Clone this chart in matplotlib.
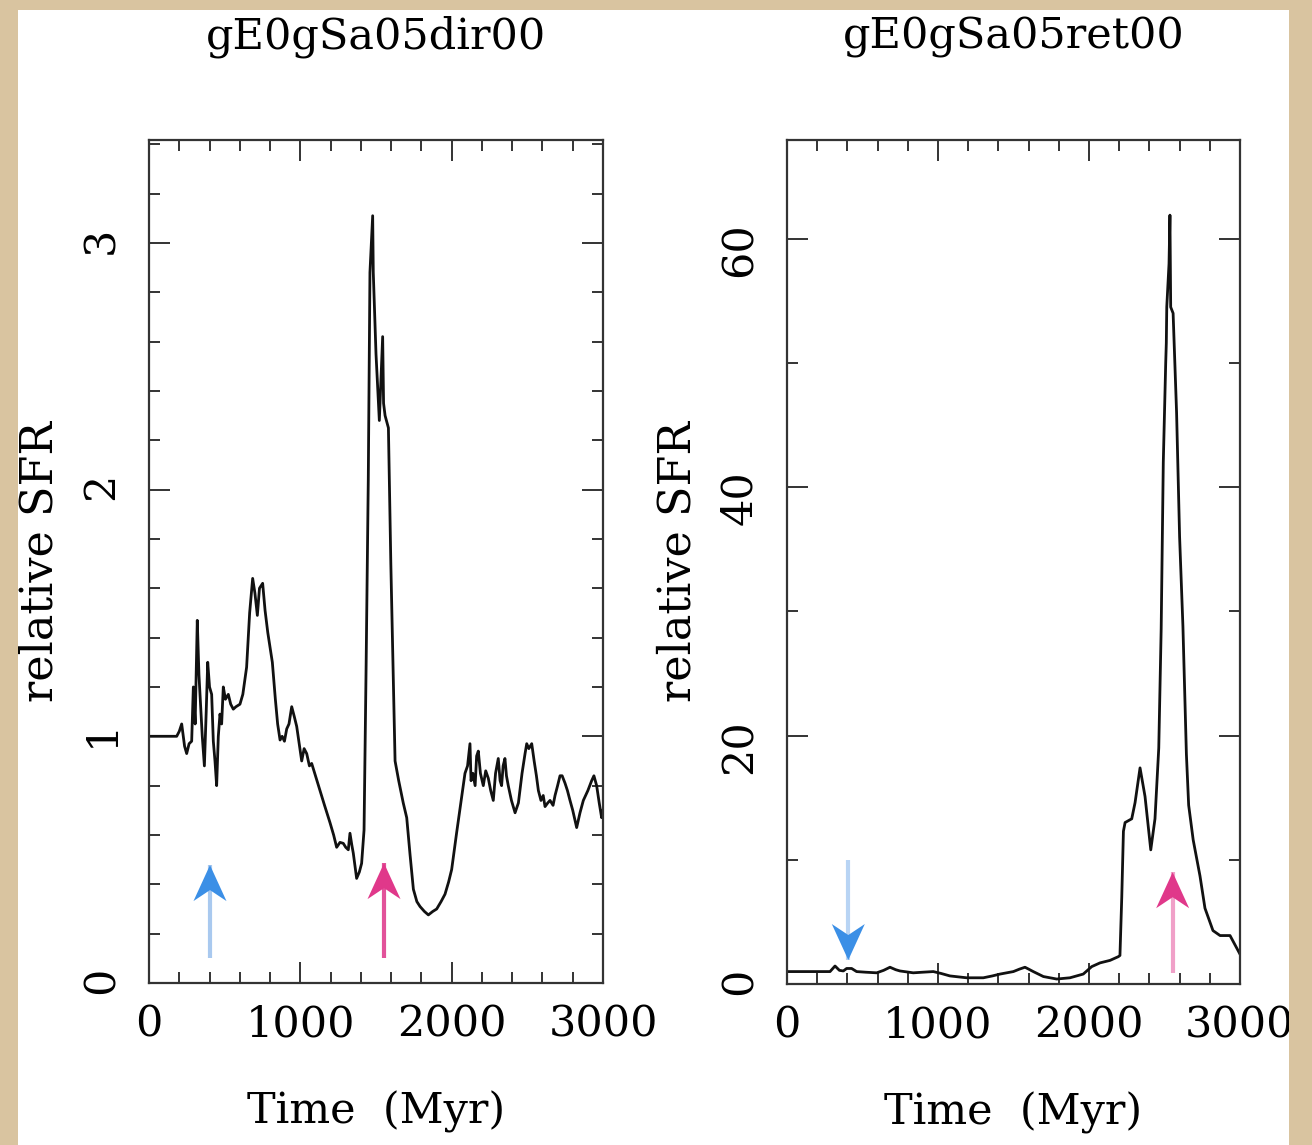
import matplotlib
matplotlib.use("Agg")
import matplotlib.pyplot as plt
import matplotlib.transforms as mtransforms
from matplotlib.patches import Polygon, Rectangle
from matplotlib.ticker import MultipleLocator

# star formation history, prograde encounter
t_dir = [0, 100, 183, 200, 216, 235, 249, 265, 282, 293, 305, 319, 330, 337, 352,
         366, 378, 388, 400, 414, 425, 436, 447, 458, 469, 480, 491, 505, 524, 540,
         557, 575, 601, 620, 645, 665, 685, 700, 716, 730, 751, 767, 785, 800, 815,
         835, 850, 866, 880, 895, 910, 925, 943, 960, 976, 990, 1009, 1025, 1042, 1060,
         1075, 1100, 1130, 1160, 1196, 1220, 1240, 1262, 1284, 1300, 1317, 1328, 1340, 1350, 1362,
         1372, 1390, 1405, 1421, 1435, 1449, 1460, 1478, 1482, 1500, 1522, 1544, 1550, 1560,
         1582, 1588, 1598, 1626, 1650, 1680, 1703, 1725, 1747, 1770, 1791, 1820, 1846, 1875,
         1901, 1930, 1956, 1980, 2000, 2033, 2066, 2088, 2105, 2121, 2128, 2140, 2155, 2165,
         2176, 2190, 2209, 2225, 2242, 2258, 2275, 2290, 2308, 2320, 2330, 2340, 2352, 2362,
         2374, 2395, 2419, 2441, 2465, 2485, 2496, 2510, 2529, 2545, 2560, 2573, 2590, 2605,
         2617, 2635, 2650, 2670, 2683, 2700, 2716, 2730, 2749, 2765, 2782, 2800, 2826, 2848,
         2870, 2900, 2925, 2940, 2958, 2975, 2991, 3000]
sfr_dir = [1.00, 1.00, 1.00, 1.02, 1.05, 0.96, 0.93, 0.97, 0.98, 1.20, 1.05, 1.47, 1.25, 1.17, 1.00,
           0.88, 1.10, 1.30, 1.20, 1.17, 0.98, 0.90, 0.80, 1.00, 1.09, 1.05, 1.20, 1.15, 1.17, 1.13,
           1.11, 1.12, 1.13, 1.17, 1.28, 1.50, 1.64, 1.58, 1.49, 1.60, 1.62, 1.51, 1.42, 1.36, 1.30,
           1.15, 1.05, 0.985, 1.00, 0.98, 1.03, 1.05, 1.12, 1.08, 1.04, 0.98, 0.90, 0.95, 0.93, 0.88,
           0.89, 0.84, 0.78, 0.72, 0.65, 0.60, 0.55, 0.57, 0.566, 0.55, 0.54, 0.607, 0.56, 0.526, 0.47,
           0.424, 0.45, 0.485, 0.62, 1.30, 2.04, 2.88, 3.11, 2.88, 2.55, 2.28, 2.62, 2.35, 2.30,
           2.25, 2.05, 1.70, 0.90, 0.82, 0.73, 0.67, 0.52, 0.38, 0.33, 0.31, 0.29, 0.276, 0.29,
           0.30, 0.33, 0.36, 0.41, 0.46, 0.61, 0.755, 0.85, 0.88, 0.97, 0.82, 0.85, 0.80, 0.92,
           0.94, 0.85, 0.80, 0.86, 0.83, 0.78, 0.74, 0.85, 0.91, 0.82, 0.80, 0.88, 0.91, 0.84,
           0.80, 0.74, 0.69, 0.73, 0.85, 0.93, 0.97, 0.95, 0.97, 0.90, 0.84, 0.78, 0.74, 0.76,
           0.715, 0.73, 0.74, 0.72, 0.76, 0.80, 0.84, 0.84, 0.81, 0.78, 0.74, 0.70, 0.63, 0.69,
           0.74, 0.78, 0.82, 0.84, 0.80, 0.73, 0.67, 0.70]

# star formation history, retrograde encounter
t_ret = [0, 150, 285, 318, 347, 373, 395, 428, 461, 520, 594, 640, 682, 720, 748,
         836, 900, 969, 1020, 1079, 1190, 1300, 1360, 1411, 1499, 1540, 1576, 1600, 1631,
         1698, 1786, 1874, 1962, 2018, 2073, 2139, 2194, 2205, 2217, 2228, 2239, 2283, 2305,
         2338, 2371, 2409, 2437, 2462, 2478, 2492, 2508, 2512, 2515, 2530, 2536, 2541, 2557,
         2580, 2600, 2622, 2645, 2660, 2690, 2735, 2768, 2821, 2868, 2900, 2934, 2978, 3000]
sfr_ret = [1.0, 1.0, 1.0, 1.45, 1.1, 1.05, 1.25, 1.25, 1.0, 0.95, 0.9, 1.1, 1.35, 1.15, 1.05,
           0.9, 0.95, 1.0, 0.85, 0.65, 0.5, 0.5, 0.65, 0.8, 1.0, 1.2, 1.35, 1.2, 1.0,
           0.6, 0.4, 0.5, 0.8, 1.4, 1.7, 1.9, 2.2, 2.3, 7.0, 12.3, 13.0, 13.3, 14.6,
           17.4, 15.1, 10.8, 13.3, 19.0, 28.6, 42.0, 50.0, 51.6, 54.5, 58.0, 61.9, 54.5, 54.0,
           46.0, 36.0, 28.8, 18.5, 14.4, 11.6, 8.7, 6.1, 4.3, 3.9, 3.9, 3.9, 2.9, 2.4]

titles = ["gE0gSa05dir00", "gE0gSa05ret00"]

# event markers: time, start value, tip value, colours (shaft, head)
arrows_dir = [(403, 0.10, 0.478, "#a9c9ef", "#3b8fe6"),
              (1553, 0.10, 0.486, "#e2529a", "#e0388a")]
arrows_ret = [(406, 10.0, 1.93, "#b8d4f4", "#3b8fe6"),
              (2554, 0.9, 9.0, "#f0a0c8", "#e0388a")]

plt.rcParams["font.family"] = ["DejaVu Serif"]
plt.rcParams["font.size"] = 31

W, H = 1312, 1145
fig = plt.figure(figsize=(W / 100, H / 100), dpi=100, facecolor="white")

ax1 = fig.add_axes([149 / W, 1 - 983 / H, 454 / W, 843 / H])
ax2 = fig.add_axes([787 / W, 1 - 984 / H, 453 / W, 844 / H])


def draw_arrow(ax, t, base, tip, shaft_col, head_col):
    ax.plot([t, t], [base, tip], color=shaft_col, lw=3, solid_capstyle="butt", zorder=3)
    sgn = 1 if tip > base else -1
    w, L, n = 0.33, 0.36, 0.25  # inches
    verts = [(0, 0), (w / 2, -sgn * L), (0, -sgn * n), (-w / 2, -sgn * L)]
    tr = fig.dpi_scale_trans + mtransforms.ScaledTranslation(t, tip, ax.transData)
    ax.add_patch(Polygon(verts, closed=True, facecolor=head_col, edgecolor="none",
                         transform=tr, zorder=4, clip_on=False))


def style(ax, ymax, ymaj, ymin, title):
    ax.set_xlim(0, 3000)
    ax.set_ylim(0, ymax)
    ax.xaxis.set_major_locator(MultipleLocator(1000))
    ax.xaxis.set_minor_locator(MultipleLocator(200))
    ax.yaxis.set_major_locator(MultipleLocator(ymaj))
    ax.yaxis.set_minor_locator(MultipleLocator(ymin))
    ax.tick_params(which="both", direction="in", top=True, right=True, color="#333333", width=1.4)
    ax.tick_params(which="major", length=15)
    ax.tick_params(which="minor", length=8)
    ax.tick_params(axis="x", pad=15)
    ax.tick_params(axis="y", labelrotation=90, pad=19)
    for s in ax.spines.values():
        s.set_linewidth(1.6)
        s.set_color("#333333")
    ax.set_xlabel("Time  (Myr)", va="center", fontsize=31)
    ax.xaxis.set_label_coords(0.5, -0.153)
    ax.set_ylabel("relative SFR", va="center", fontsize=32)
    ax.yaxis.set_label_coords(-0.24, 0.5)
    ax.text(0.5, 1.122, title, ha="center", va="center", transform=ax.transAxes)


ax1.plot(t_dir, sfr_dir, color="#111111", lw=2.0, zorder=2)
style(ax1, 3.417, 1, 0.2, titles[0])
for a in arrows_dir:
    draw_arrow(ax1, *a)

ax2.plot(t_ret, sfr_ret, color="#111111", lw=2.0, zorder=2)
style(ax2, 67.95, 20, 10, titles[1])
for a in arrows_ret:
    draw_arrow(ax2, *a)

# parchment frame around the page
beige = "#d9c4a0"
for x0, y0, w, h in [(0, 0, 18, H), (0, 0, W, 10), (1289, 0, W - 1289, H)]:
    fig.add_artist(Rectangle((x0 / W, 1 - (y0 + h) / H), w / W, h / H,
                             transform=fig.transFigure, facecolor=beige,
                             edgecolor="none", zorder=10))

fig.savefig("out.png", dpi=100, facecolor=fig.get_facecolor())
